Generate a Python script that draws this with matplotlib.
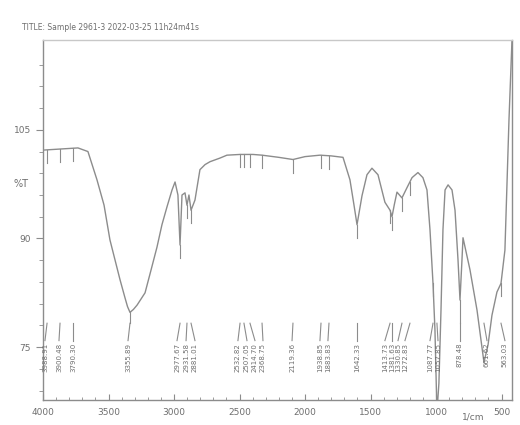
import matplotlib
matplotlib.use("Agg")
import matplotlib.pyplot as plt
import numpy as np

# spectrum trace (wavenumber 1/cm, %T)
wn = [4000, 3733, 3657, 3588, 3534, 3489, 3412, 3374, 3355, 3336, 3310, 3282, 3221, 3176,
      3130, 3092, 3053, 3015, 2992, 2970, 2954, 2939, 2916, 2901, 2886, 2870,
      2840, 2802, 2763, 2725, 2649, 2596, 2496, 2397, 2328, 2200, 2092, 2000,
      1886, 1800, 1710, 1657, 1626, 1603, 1565, 1527, 1489, 1443, 1390, 1351,
      1336, 1318, 1298, 1260, 1222, 1183, 1138, 1100, 1069, 1046, 1023, 1008,
      993, 978, 962, 947, 931, 908, 878, 855, 832, 817, 802, 794, 741, 687,
      634, 603, 573, 535, 504, 474, 443, 420]
tr = [102.2, 102.5, 102.0, 98.1, 94.6, 89.8, 84.3, 81.8, 80.6, 79.8, 80.2, 80.8, 82.5, 85.6,
      88.8, 91.9, 94.4, 96.7, 97.8, 96.0, 89.1, 96.0, 96.3, 94.6, 96.0, 93.9,
      95.3, 99.5, 100.2, 100.6, 101.1, 101.5, 101.6, 101.6, 101.5, 101.2, 100.9, 101.3,
      101.5, 101.4, 101.2, 98.1, 94.6, 91.9, 95.9, 98.8, 99.7, 98.8, 95.0, 93.9,
      93.0, 94.7, 96.4, 95.6, 97.0, 98.4, 99.1, 98.4, 96.7, 91.2, 83.8, 77.3,
      66.0, 70.0, 80.1, 91.2, 96.7, 97.4, 96.7, 93.9, 87.0, 81.5, 87.0, 90.1,
      85.7, 80.1, 72.9, 75.3, 79.4, 82.6, 83.8, 88.4, 106.4, 117.4]

# picked peaks and their printed labels
peaks = [3969, 3870, 3771, 3336, 2954, 2901, 2870, 2496, 2466, 2420, 2328,
         2092, 1878, 1817, 1603, 1351, 1336, 1260, 1199, 1023, 993, 817, 634, 504]
peak_text = ["3988.91", "3900.48", "3790.30", "3355.89", "2977.67", "2931.58",
             "2881.01", "2532.82", "2507.05", "2414.70", "2368.75", "2119.36",
             "1938.85", "1883.83", "1642.33", "1413.73", "1381.63", "1330.85",
             "1272.83", "1087.77", "1057.85", "878.48", "661.62", "563.03"]
label_shift = [16, 8, 0, 15, 23, 7, -30, 16, -23, -38, -7, 7, 8, 8, 0,
               39, 0, 30, 38, 23, -8, 0, -23, -30]

grey = "#8c8c8c"
txt = "#6e6e6e"

fig = plt.figure(figsize=(5.2, 4.25), dpi=100)
ax = fig.add_axes([43/520, 1-400/425, 469/520, 360/425])
ax.plot(wn, tr, color=grey, lw=1.0)
ax.set_xlim(4000, 420)
ax.set_ylim(67.7, 117.4)

wn_r = np.array(wn[::-1]); tr_r = np.array(tr[::-1])
for p, t, s in zip(peaks, peak_text, label_shift):
    yv = np.interp(p, wn_r, tr_r)
    bot = yv - 1.8
    if bot < 80.5:
        bot = 78.3
    if yv > 78.3:
        ax.plot([p, p], [yv, bot], color=grey, lw=0.8)
    ax.plot([p, p + s], [78.3, 75.9], color=grey, lw=0.8)
    ax.text(p + s, 75.6, t, rotation=90, va="top", ha="center",
            fontsize=5.0, color=txt)

for sp in ax.spines.values():
    sp.set_color(grey)
    sp.set_linewidth(1.0)
ax.spines["top"].set_color("#c8c8c8")

ax.set_xticks([4000, 3500, 3000, 2500, 2000, 1500, 1000, 500])
ax.set_xticks(np.arange(500, 4001, 100), minor=True)
ax.set_yticks([75, 90, 105])
ax.set_yticks(np.arange(69, 117, 3), minor=True)
ax.tick_params(axis="x", direction="in", length=4, colors=grey,
               labelcolor=txt, labelsize=6.5, pad=6)
ax.tick_params(axis="x", which="minor", direction="in", length=2.5, colors=grey)
ax.tick_params(axis="y", length=5, colors=grey, labelcolor=txt, labelsize=6.5)
ax.tick_params(axis="y", which="minor", length=3, colors=grey)

ax.text(-0.03, 0.6, "%T", transform=ax.transAxes, fontsize=7, color=txt,
        ha="right", va="center")
ax.text(718, -0.035, "1/cm", transform=ax.get_xaxis_transform(), fontsize=6.5,
        color=txt, ha="center", va="top")
fig.text(22/520, 1-28/425, "TITLE: Sample 2961-3 2022-03-25 11h24m41s",
         fontsize=5.5, color=txt, va="center")

fig.savefig("out.png", dpi=100)
